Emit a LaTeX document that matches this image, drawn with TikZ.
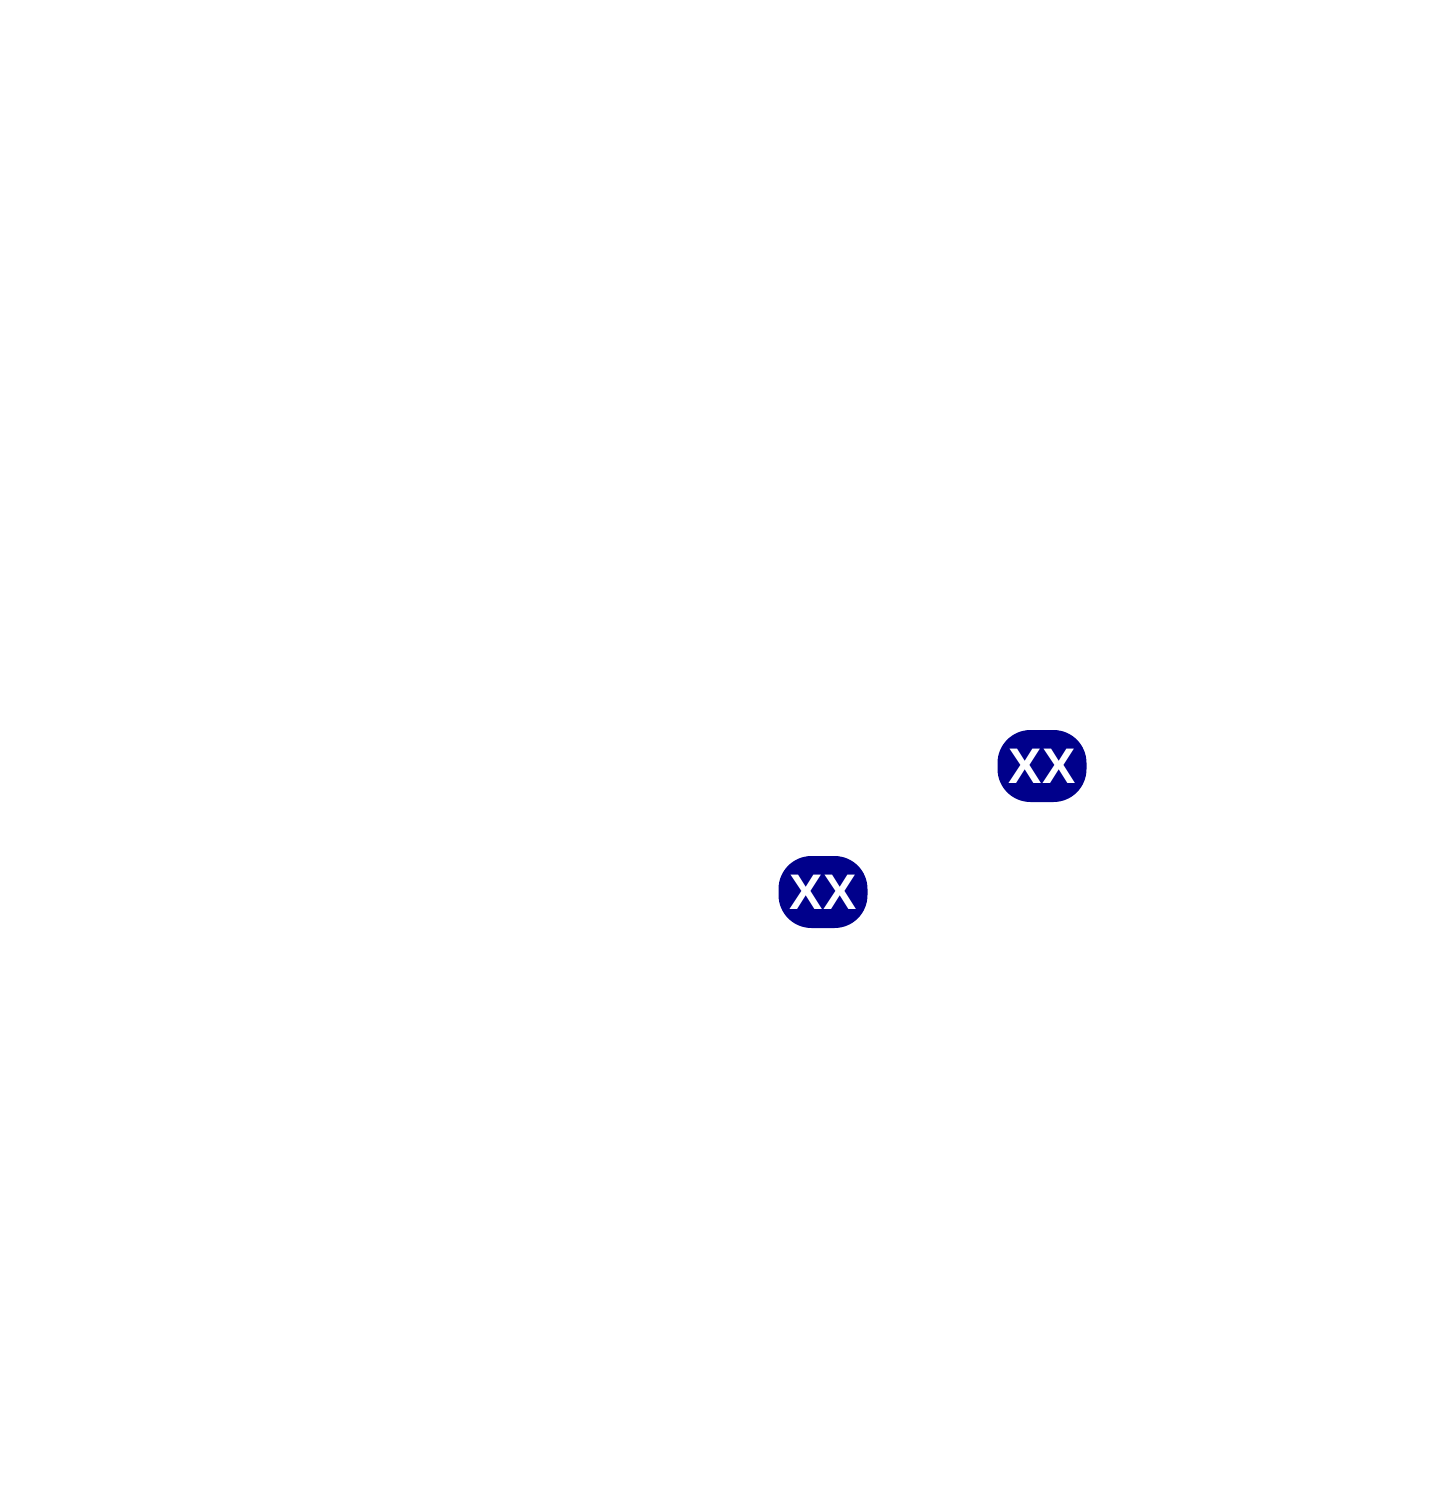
\documentclass[tikz,border=0pt]{standalone}
\usepackage{fontspec}
\setmainfont{Liberation Sans}
\definecolor{navy}{RGB}{0,0,139}
\begin{document}
\begin{tikzpicture}[x=1pt,y=-1pt,
  badge/.style={fill=navy,rounded corners=33pt,minimum width=89pt,minimum height=72pt,inner sep=0pt,text=white,font=\fontsize{50}{50}\selectfont\bfseries}]
\useasboundingbox[fill=white] (0,0) rectangle (1445,1488);
\node[badge] (a) at (1042,766) {XX};
\node[badge] (b) at (823,892) {XX};
\end{tikzpicture}
\end{document}
